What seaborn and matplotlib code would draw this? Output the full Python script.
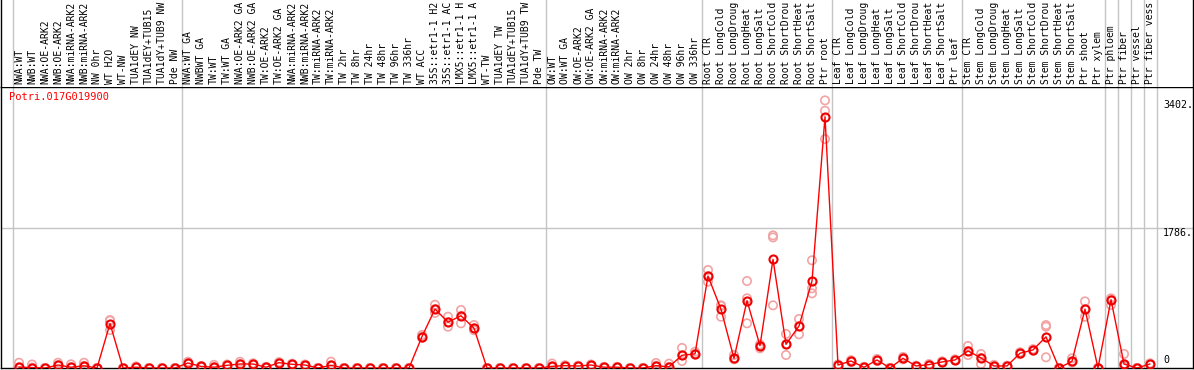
import matplotlib
matplotlib.use("Agg")
import matplotlib.pyplot as plt
import seaborn as sns
import numpy as np
import pandas as pd

categories = [
    "NWA:WT", "NWB:WT", "NWA:OE-ARK2", "NWB:OE-ARK2", "NWA:miRNA-ARK2", "NWB:miRNA-ARK2",
    "NW 0hr", "WT H2O", "WT-NW", "TUA1dEY NW", "TUA1dEY+TUB15", "TUA1dY+TUB9 NW", "Pde NW",
    "NWA:WT GA", "NWBWT GA", "TW:WT", "TW:WT GA", "NWA:OE-ARK2 GA", "NWB:OE-ARK2 GA",
    "TW:OE-ARK2", "TW:OE-ARK2 GA", "NWA:miRNA-ARK2", "NWB:miRNA-ARK2", "TW:miRNA-ARK2",
    "TW:miRNA-ARK2", "TW 2hr", "TW 8hr", "TW 24hr", "TW 48hr", "TW 96hr", "TW 336hr",
    "WT ACC", "35S::etr1-1 H2", "35S::etr1-1 AC", "LMX5::etr1-1 H", "LMX5::etr1-1 A",
    "WT-TW", "TUA1dEY TW", "TUA1dEY+TUB15", "TUA1dY+TUB9 TW", "Pde TW",
    "OW:WT", "OW:WT GA", "OW:OE-ARK2", "OW:OE-ARK2 GA", "OW:miRNA-ARK2", "OW:miRNA-ARK2",
    "OW 2hr", "OW 8hr", "OW 24hr", "OW 48hr", "OW 96hr", "OW 336hr",
    "Root CTR", "Root LongCold", "Root LongDroug", "Root LongHeat", "Root LongSalt",
    "Root ShortCold", "Root ShortDrou", "Root ShortHeat", "Root ShortSalt", "Ptr root",
    "Leaf CTR", "Leaf LongCold", "Leaf LongDroug", "Leaf LongHeat", "Leaf LongSalt",
    "Leaf ShortCold", "Leaf ShortDrou", "Leaf ShortHeat", "Leaf ShortSalt", "Ptr leaf",
    "Stem CTR", "Stem LongCold", "Stem LongDroug", "Stem LongHeat", "Stem LongSalt",
    "Stem ShortCold", "Stem ShortDrou", "Stem ShortHeat", "Stem ShortSalt", "Ptr shoot",
    "Ptr xylem", "Ptr phloem", "Ptr fiber", "Ptr vessel", "Ptr fiber vess",
]

mean_values = [
    10, 5, 0, 38, 10, 28, 0, 565, 0, 10, 0, 0, 0,
    64, 20, 10, 34, 51, 51, 10, 68, 47, 38, 0, 34, 0, 0, 0, 0, 0, 0,
    400, 749, 583, 664, 506, 0, 0, 0, 0, 0,
    21, 30, 25, 38, 10, 10, 0, 0, 30, 15, 162, 179,
    1169, 746, 123, 856, 284, 1381, 301, 534, 1106, 3194,
    38, 89, 9, 102, 0, 123, 26, 43, 77, 102,
    217, 128, 26, 26, 187, 230, 396, 0, 85, 749, 0,
    868, 51, 0, 51,
]

rep_high = [
    67, 45, 0, 67, 47, 67, 0, 610, 0, 20, 0, 0, 0,
    80, 25, 40, 45, 80, 60, 15, 75, 55, 45, 0, 80, 0, 0, 0, 0, 0, 0,
    420, 804, 652, 737, 546, 0, 0, 0, 0, 0,
    57, 35, 30, 45, 15, 15, 0, 0, 64, 55, 255, 207,
    1246, 788, 165, 1106, 300, 1686, 432, 623, 1369, 3402,
    45, 100, 15, 115, 0, 140, 30, 50, 85, 110,
    280, 178, 40, 30, 200, 240, 546, 0, 123, 847, 0,
    886, 178, 0, 60,
]

rep_low = [
    5, 0, 0, 30, 5, 15, 0, 483, 0, 5, 0, 0, 0,
    55, 15, 5, 30, 45, 45, 5, 60, 40, 30, 0, 30, 0, 0, 0, 0, 0, 0,
    385, 700, 525, 568, 480, 0, 0, 0, 0, 0,
    10, 25, 20, 30, 5, 5, 0, 0, 20, 10, 89, 170,
    1097, 652, 110, 568, 250, 797, 165, 428, 949, 3270,
    30, 75, 5, 90, 0, 110, 20, 35, 70, 95,
    165, 51, 20, 20, 175, 220, 136, 0, 70, 652, 0,
    801, 20, 0, 45,
]

rep_mid = [
    10, 5, 0, 38, 10, 28, 0, 602, 0, 10, 0, 0, 0,
    64, 20, 10, 34, 51, 51, 10, 68, 47, 38, 0, 34, 0, 0, 0, 0, 0, 0,
    400, 749, 583, 664, 506, 0, 0, 0, 0, 0,
    21, 30, 25, 38, 10, 10, 0, 0, 30, 15, 162, 179,
    1169, 798, 123, 886, 284, 1660, 301, 534, 1013, 2910,
    38, 89, 9, 102, 0, 123, 26, 43, 77, 102,
    217, 128, 26, 26, 187, 230, 525, 0, 85, 749, 0,
    868, 51, 0, 51,
]

# group boundaries: separator after these category positions
group_ends = [-1, 12, 40, 52, 62, 72, 83, 84, 85, 86, 87]

gene_name = "Potri.017G019900"
y_max_label = "3402."
y_mid_label = "1786."
y_max_value = 3402
y_mid_value = 1786

W, H = 1194, 370
sns.set_theme(style="white")
plt.rcParams["font.family"] = ["DejaVu Sans Mono", "DejaVu Sans"]

fig = plt.figure(figsize=(W / 100, H / 100), dpi=100)

plot_top_px, plot_bot_px = 87, 368
left_px, right_px = 1, 1193
ax = fig.add_axes([left_px / W, (H - plot_bot_px) / H, (right_px - left_px) / W,
                   (plot_bot_px - plot_top_px) / H])
hx = fig.add_axes([left_px / W, (H - plot_top_px) / H, (right_px - left_px) / W,
                   plot_top_px / H], sharex=ax)

x0_px, step_px = 19, 13
xlim = ((left_px - x0_px) / step_px, (right_px - x0_px) / step_px)

n = len(categories)
pos = np.arange(n)
df = pd.DataFrame({"pos": pos, "cat": categories, "mean": mean_values})
reps = pd.DataFrame({
    "pos": np.concatenate([pos, pos, pos]),
    "value": np.concatenate([rep_high, rep_mid, rep_low]),
})

ymax = y_max_value * 1.05

# separators
for g in group_ends:
    for a in (ax, hx):
        a.axvline(g + 0.5, color="#c4c4c4", lw=1, zorder=0)
ax.axhline(y_mid_value, color="#c4c4c4", lw=1, zorder=0)

sns.scatterplot(data=reps, x="pos", y="value", ax=ax, marker="o", s=36,
                facecolor="none", edgecolor="#f2a4a4", linewidth=1.2, zorder=2,
                legend=False)
sns.lineplot(data=df, x="pos", y="mean", ax=ax, color="red", lw=1.0, zorder=3,
             marker="o", markersize=5.8, markerfacecolor="none",
             markeredgecolor="#ee0000", markeredgewidth=1.5, legend=False)

ax.set_xlim(*xlim)
ax.set_ylim(0, ymax)
ax.set_xlabel("")
ax.set_ylabel("")
ax.set_xticks([])
ax.set_yticks([])
for s in ax.spines.values():
    s.set_color("black")
    s.set_linewidth(1)

ax.text(8 / 1192, (plot_bot_px - 92) / (plot_bot_px - plot_top_px), gene_name,
        transform=ax.transAxes, color="red", fontsize=7.5, va="top", ha="left")

label_x = (1163 - x0_px) / step_px
ax.text(label_x, y_max_value, y_max_label, fontsize=7.2, va="top", ha="left", color="black")
ax.text(label_x, y_mid_value, y_mid_label, fontsize=7.2, va="top", ha="left", color="black")
ax.text(label_x, 40, "0", fontsize=7.2, va="bottom", ha="left", color="black")

# header with rotated labels
hx.set_ylim(0, 1)
hx.set_xticks([])
hx.set_yticks([])
for k, s in hx.spines.items():
    s.set_color("black")
    s.set_linewidth(1)
hx.spines["bottom"].set_visible(False)
hx.spines["top"].set_visible(False)
for i, c in enumerate(categories):
    hx.text(i, 3 / plot_top_px, c, rotation=90, fontsize=7.0, ha="center", va="bottom",
            color="black", clip_on=True)

fig.savefig("out.png", dpi=100, facecolor="white")
